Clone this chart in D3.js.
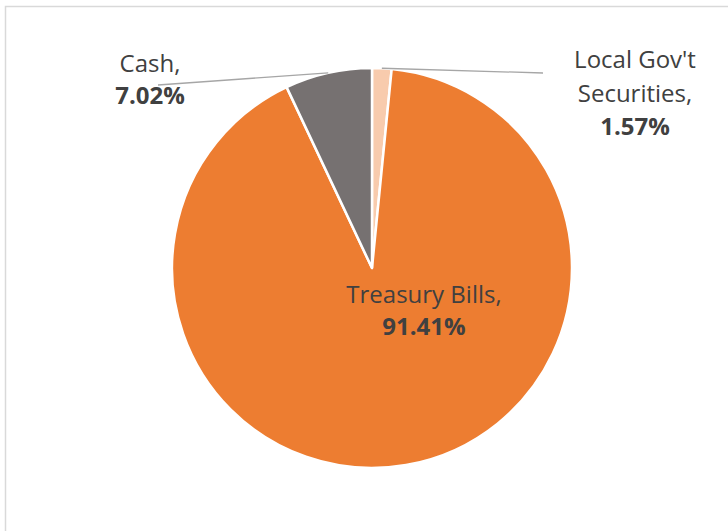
<!DOCTYPE html>
<html>
<head>
<meta charset="utf-8">
<script src="https://cdn.jsdelivr.net/npm/d3@7"></script>
<style>
  body { margin: 0; background: #fff; }
  text { font-family: "Open Sans", "Liberation Sans", sans-serif; fill: #404040; }
</style>
</head>
<body>
<div id="chart"></div>
<script>
const categories = ["Local Gov't Securities", "Treasury Bills", "Cash"];
const values = [1.57, 91.41, 7.02];
const labelLines = [["Local Gov't", "Securities,"], ["Treasury Bills,"], ["Cash,"]];
const valueLabels = ["1.57%", "91.41%", "7.02%"];
const colors = ["#F8CBAD", "#ED7D31", "#767171"];

const W = 728, H = 531;
const cx = 372, cy = 268, radius = 200;

const svg = d3.select("#chart").append("svg")
    .attr("width", W).attr("height", H);

// chart frame
svg.append("rect")
    .attr("x", 5.5).attr("y", 6.5)
    .attr("width", W + 10).attr("height", H + 10)
    .attr("fill", "none").attr("stroke", "#d9d9d9").attr("stroke-width", 1.5);

const data = categories.map((c, i) => ({ name: c, value: values[i], i }));

const pie = d3.pie().sort(null).value(d => d.value);
const arc = d3.arc().innerRadius(0).outerRadius(radius);
const arcs = pie(data);

const g = svg.append("g").attr("transform", `translate(${cx},${cy})`);

g.selectAll("path")
    .data(arcs)
    .join("path")
    .attr("d", arc)
    .attr("fill", d => colors[d.data.i])
    .attr("stroke", "#fff")
    .attr("stroke-width", 2.5)
    .attr("stroke-linejoin", "round");

// label placement (layout only)
const labelPos = [
    { x: 635, y: 68, gap: 33.5, lineEnd: [543, 73] },
    { x: 424, y: 303, gap: 32, lineEnd: null },
    { x: 150, y: 72, gap: 31.5, lineEnd: [158, 85] }
];

arcs.forEach((a, i) => {
    const p = labelPos[i];
    if (p.lineEnd) {
        const mid = (a.startAngle + a.endAngle) / 2;
        const ex = cx + radius * Math.sin(mid);
        const ey = cy - radius * Math.cos(mid);
        svg.append("line")
            .attr("x1", ex).attr("y1", ey)
            .attr("x2", p.lineEnd[0]).attr("y2", p.lineEnd[1])
            .attr("stroke", "#a6a6a6").attr("stroke-width", 1.3);
    }
    const t = svg.append("text")
        .attr("text-anchor", "middle")
        .attr("font-size", 24);
    const lines = labelLines[i];
    lines.forEach((l, k) => {
        t.append("tspan").attr("x", p.x).attr("y", p.y + k * p.gap).text(l);
    });
    t.append("tspan").attr("x", p.x).attr("y", p.y + lines.length * p.gap)
        .attr("font-weight", "bold").text(valueLabels[i]);
});
</script>
</body>
</html>
